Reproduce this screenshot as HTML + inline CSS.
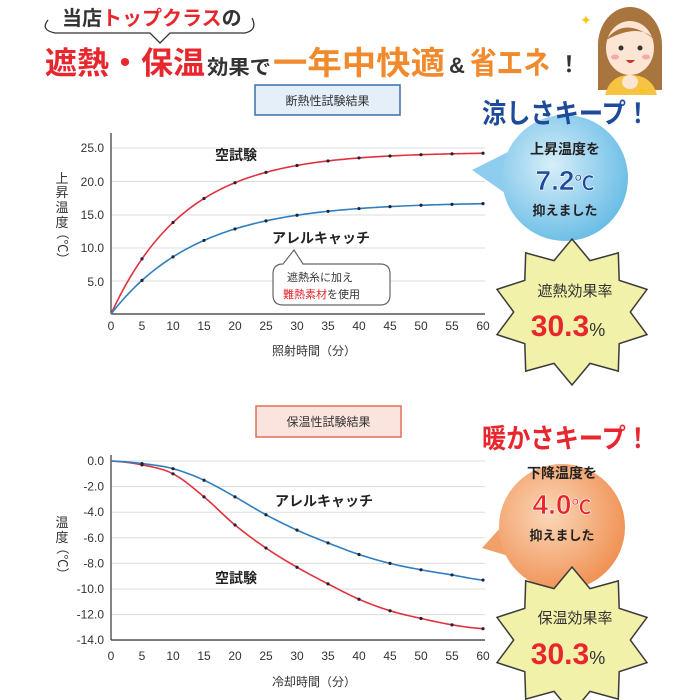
<!DOCTYPE html>
<html><head><meta charset="utf-8"><style>
body{margin:0;background:#fff;}
svg{display:block;font-family:"Liberation Sans","Noto Sans CJK JP",sans-serif;}
</style></head><body>
<svg id="s" width="700" height="700" viewBox="0 0 700 700" xmlns="http://www.w3.org/2000/svg">
<rect width="700" height="700" fill="#fff"/>
<path d="M48,20 Q40,30 55,33 L150,33 L160,43 L170,33 L245,33 Q258,30 252,18" fill="none" stroke="#333" stroke-width="1.3"/>
<text x="62" y="25" font-size="20" fill="#333" font-weight="bold">当店<tspan fill="#e8262d">トップクラス</tspan>の</text>
<g font-weight="bold">
<text x="45" y="74" font-size="31" fill="#e8262d" textLength="160" lengthAdjust="spacingAndGlyphs">遮熱・保温</text>
<text x="207" y="74" font-size="20" fill="#333" textLength="64" lengthAdjust="spacingAndGlyphs">効果で</text>
<text x="273" y="74" font-size="32" fill="#f08a2c" textLength="172" lengthAdjust="spacingAndGlyphs">一年中快適</text>
<text x="449" y="73" font-size="22" fill="#333">&amp;</text>
<text x="470" y="74" font-size="31" fill="#f08a2c" textLength="80" lengthAdjust="spacingAndGlyphs">省エネ</text>
<text x="558" y="72" font-size="22" fill="#333">！</text>
</g>
<g>
<ellipse cx="630" cy="45" rx="32" ry="38" fill="#a9753e"/>
<rect x="598" y="45" width="64" height="45" fill="#a9753e"/>
<ellipse cx="630" cy="48" rx="24" ry="27" fill="#fde5d3"/>
<path d="M606,40 Q625,15 655,40 Q640,22 606,40" fill="#a9753e"/>
<circle cx="621" cy="48" r="2.5" fill="#333"/><circle cx="640" cy="48" r="2.5" fill="#333"/>
<ellipse cx="615" cy="57" rx="4" ry="2.5" fill="#f5a9a9"/><ellipse cx="646" cy="57" rx="4" ry="2.5" fill="#f5a9a9"/>
<path d="M626,60 Q630,66 635,60 Z" fill="#c0392b"/>
<path d="M605,95 Q610,75 630,75 Q652,75 657,95 Z" fill="#f6c343"/>
<ellipse cx="630" cy="82" rx="8" ry="7" fill="#fde5d3"/>
<text x="580" y="25" font-size="14" fill="#f5c518">✦</text>
<text x="637" y="95" font-size="12" fill="#f5c518">✦</text>
</g>
<rect x="255" y="85" width="145" height="30" fill="#e4eff9" stroke="#3d6ea8" stroke-width="1.5"/>
<text x="327.5" y="105" font-size="12" fill="#333" text-anchor="middle">断熱性試験結果</text>
<rect x="256" y="406" width="145" height="31" fill="#fbe3de" stroke="#e0705a" stroke-width="1.5"/>
<text x="328.5" y="426" font-size="12" fill="#333" text-anchor="middle">保温性試験結果</text>
<g id="c1"></g><g id="c2"></g>
<g font-size="12" fill="#333" text-anchor="end">
<text x="104" y="152">25.0</text><text x="104" y="186">20.0</text><text x="104" y="219">15.0</text><text x="104" y="252">10.0</text><text x="104" y="286">5.0</text>
</g>
<g font-size="12" fill="#333" text-anchor="middle" id="xl1"></g>
<g font-size="12" fill="#333" text-anchor="middle" id="xl2"></g>
<g font-size="13" fill="#333" text-anchor="middle">
<text x="62" y="183">上</text><text x="62" y="197">昇</text><text x="62" y="212">温</text><text x="62" y="227">度</text>
<text x="62" y="250" transform="rotate(90 62 246)">（℃）</text>
<text x="62" y="527">温</text><text x="62" y="542">度</text>
<text x="62" y="565" transform="rotate(90 62 561)">（℃）</text>
</g>
<text x="314" y="355" font-size="12" fill="#333" text-anchor="middle">照射時間（分）</text>
<text x="314" y="686" font-size="12" fill="#333" text-anchor="middle">冷却時間（分）</text>
<text x="215" y="160" font-size="14" fill="#222" font-weight="bold">空試験</text>
<text x="272" y="243" font-size="14" fill="#222" font-weight="bold">アレルキャッチ</text>
<text x="275" y="506" font-size="14" fill="#222" font-weight="bold">アレルキャッチ</text>
<text x="215" y="583" font-size="14" fill="#222" font-weight="bold">空試験</text>
<path d="M283,264 L294,250 L303,264 L380,264 Q390,264 390,274 L390,295 Q390,305 380,305 L283,305 Q273,305 273,295 L273,274 Q273,264 283,264 Z" fill="#fff" stroke="#666" stroke-width="1.2"/>
<text x="287" y="281" font-size="11" fill="#333">遮熱糸に加え</text>
<text x="283" y="298" font-size="11" fill="#333"><tspan fill="#e8262d">難熱素材</tspan>を使用</text>
<defs>
<radialGradient id="gb" cx="0.4" cy="0.4" r="0.7"><stop offset="0" stop-color="#d7eef9"/><stop offset="1" stop-color="#5fb8e4"/></radialGradient>
<radialGradient id="go" cx="0.4" cy="0.4" r="0.7"><stop offset="0" stop-color="#fbd7b8"/><stop offset="1" stop-color="#ef8a4a"/></radialGradient>
</defs>
<path d="M472,170 L512,150 L515,200 Z" fill="#8fcdee"/>
<circle cx="565" cy="178" r="63" fill="url(#gb)"/>
<text x="482" y="123" font-size="27" fill="#1e4a9b" font-weight="bold" textLength="168" lengthAdjust="spacingAndGlyphs">涼しさキープ！</text>
<text x="565" y="154" font-size="14" fill="#222" text-anchor="middle" font-weight="bold">上昇温度を</text>
<text x="565" y="190" font-size="28" fill="#1e4a9b" text-anchor="middle" font-weight="bold" stroke="#fff" stroke-width="0.6">7.2<tspan font-size="20">℃</tspan></text>
<text x="565" y="215" font-size="13" fill="#222" text-anchor="middle" font-weight="bold">抑えました</text>
<path id="st1" fill="#f2f1a9" stroke="#3a3a3a" stroke-width="1.5"/>
<text x="575" y="296" font-size="15" fill="#333" text-anchor="middle">遮熱効果率</text>
<text x="568" y="336" font-size="30" fill="#e8262d" text-anchor="middle" font-weight="bold">30.3<tspan font-size="18" fill="#333" font-weight="normal">%</tspan></text>
<path d="M482,548 L512,515 L522,560 Z" fill="#f2a06a"/>
<circle cx="562" cy="527" r="63" fill="url(#go)"/>
<text x="482" y="448" font-size="27" fill="#e8262d" font-weight="bold" textLength="168" lengthAdjust="spacingAndGlyphs">暖かさキープ！</text>
<text x="562" y="478" font-size="14" fill="#222" text-anchor="middle" font-weight="bold">下降温度を</text>
<text x="562" y="514" font-size="28" fill="#e8262d" text-anchor="middle" font-weight="bold" stroke="#fff" stroke-width="0.6">4.0<tspan font-size="20">℃</tspan></text>
<text x="562" y="540" font-size="13" fill="#222" text-anchor="middle" font-weight="bold">抑えました</text>
<path id="st2" fill="#f2f1a9" stroke="#3a3a3a" stroke-width="1.5"/>
<text x="575" y="623" font-size="15" fill="#333" text-anchor="middle">保温効果率</text>
<text x="568" y="664" font-size="30" fill="#e8262d" text-anchor="middle" font-weight="bold">30.3<tspan font-size="18" fill="#333" font-weight="normal">%</tspan></text>
</svg>
<script>
var NS="http://www.w3.org/2000/svg";
function el(p,t,a,txt){var e=document.createElementNS(NS,t);for(var k in a)e.setAttribute(k,a[k]);if(txt!=null)e.textContent=txt;p.appendChild(e);return e;}
function X(t){return 111+t*6.2;}
var c1=document.getElementById('c1');
[148,181.5,215,248,281].forEach(function(y){el(c1,'line',{x1:111,x2:485,y1:y,y2:y,stroke:'#ddd','stroke-width':1});});
el(c1,'line',{x1:111,x2:111,y1:133,y2:314,stroke:'#333','stroke-width':1.2});
el(c1,'line',{x1:111,x2:485,y1:314,y2:314,stroke:'#333','stroke-width':1.2});
function draw(g,f,col){var pts=[];for(var t=0;t<=60;t+=0.5)pts.push(X(t)+','+f(t));el(g,'polyline',{points:pts.join(' '),fill:'none',stroke:col,'stroke-width':1.6});for(var t=5;t<=60;t+=5)el(g,'circle',{cx:X(t),cy:f(t),r:1.6,fill:'#223'});}
draw(c1,function(t){return 314-6.66*24.3*(1-Math.exp(-t/12));},'#e0313f');
draw(c1,function(t){return 314-6.66*16.8*(1-Math.exp(-t/14));},'#2f7fc0');
var xl1=document.getElementById('xl1'),xl2=document.getElementById('xl2');
for(var t=0;t<=60;t+=5){el(xl1,'text',{x:X(t),y:330},String(t));el(xl2,'text',{x:X(t),y:660},String(t));}
var c2=document.getElementById('c2');
for(var v=0;v>=-14;v-=2){var y=461-v*12.8;el(c2,'line',{x1:111,x2:485,y1:y,y2:y,stroke:'#ddd','stroke-width':1});el(c2,'text',{x:104,y:y+4,'font-size':12,fill:'#333','text-anchor':'end'},v.toFixed(1));}
el(c2,'line',{x1:111,x2:111,y1:455,y2:640,stroke:'#333','stroke-width':1.2});
el(c2,'line',{x1:111,x2:485,y1:640,y2:640,stroke:'#333','stroke-width':1.2});
var R=[0,-0.3,-1,-2.8,-5,-6.8,-8.3,-9.6,-10.8,-11.7,-12.3,-12.8,-13.1];
var B=[0,-0.2,-0.6,-1.5,-2.8,-4.2,-5.4,-6.4,-7.3,-8,-8.5,-8.9,-9.3];
function interp(a){return function(t){var i=Math.min(11,Math.floor(t/5)),f=(t-i*5)/5;var p0=a[Math.max(0,i-1)],p1=a[i],p2=a[i+1],p3=a[Math.min(12,i+2)];var v=0.5*((2*p1)+(-p0+p2)*f+(2*p0-5*p1+4*p2-p3)*f*f+(-p0+3*p1-3*p2+p3)*f*f*f);return 461-v*12.8;};}
draw(c2,interp(R),'#e0313f');draw(c2,interp(B),'#2f7fc0');
function star(id,cx,cy,n,r1,r2,rx){var d='';for(var i=0;i<2*n;i++){var a=-Math.PI/2+i*Math.PI/n,r=i%2?r2:r1;d+=(i?'L':'M')+(cx+Math.cos(a)*r*rx).toFixed(1)+','+(cy+Math.sin(a)*r).toFixed(1);}document.getElementById(id).setAttribute('d',d+'Z');}
star('st1',572,312,10,73,54,1.08);star('st2',572,640,10,73,54,1.08);
</script>
</body></html>
